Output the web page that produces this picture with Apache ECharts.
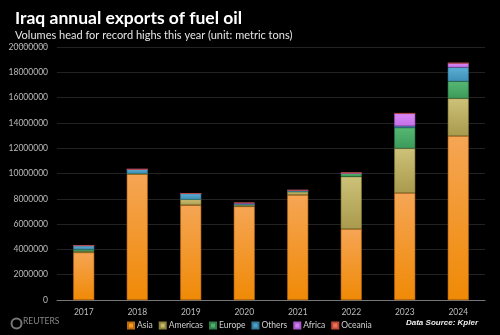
<!DOCTYPE html>
<html>
<head>
<meta charset="utf-8">
<script src="https://cdn.jsdelivr.net/npm/echarts@6/dist/echarts.min.js"></script>
<style>
html,body{margin:0;padding:0;background:#000;}
#c{width:500px;height:335px;}
</style>
</head>
<body>
<div id="c"></div>
<script>
const years = ['2017','2018','2019','2020','2021','2022','2023','2024'];
const asia      = [3750000, 9950000, 7500000, 7400000, 8300000, 5610000, 8460000, 12960000];
const americas  = [100000,   50000,  450000,  120000,  260000, 4140000, 3530000, 2980000];
const europe    = [150000,       0,       0,       0,       0,  260000, 1630000, 1350000];
const others    = [300000,  330000,  470000,  100000,  110000,       0,  130000, 1100000];
const africa    = [0,            0,       0,   50000,       0,       0, 1000000,  340000];
const oceania   = [0,            0,       0,   30000,       0,   80000,       0,       0];
const yTicks = [0, 2000000, 4000000, 6000000, 8000000, 10000000, 12000000, 14000000, 16000000, 18000000, 20000000];

const chart = echarts.init(document.getElementById('c'), null, {renderer: 'canvas'});
const G = (a, b) => new echarts.graphic.LinearGradient(0, 0, 0, 1, [{offset: 0, color: a}, {offset: 1, color: b}]);
const seriesDefs = [
  {name: 'Asia', data: asia, c1: '#f5a555', c2: '#f08a06', b: '#c06a10', icon: '#f39a20'},
  {name: 'Americas', data: americas, c1: '#cdc279', c2: '#a99a4c', b: '#8c7f3c', icon: '#c3b86a'},
  {name: 'Europe', data: europe, c1: '#56b873', c2: '#3c9a5a', b: '#2f7d47', icon: '#4caf6a'},
  {name: 'Others', data: others, c1: '#5aaed3', c2: '#3f8fb8', b: '#35789a', icon: '#4aa0c8'},
  {name: 'Africa', data: africa, c1: '#d98af5', c2: '#c56fe8', b: '#a858c8', icon: '#cf7ef0'},
  {name: 'Oceania', data: oceania, c1: '#f57c66', c2: '#e8604a', b: '#c04a38', icon: '#f0705a'}
];

chart.setOption({
  backgroundColor: '#000',
  animation: false,
  textStyle: {fontFamily: 'Lato, "DejaVu Sans", sans-serif'},
  title: [
    {text: 'Iraq annual exports of fuel oil', left: 10, top: 4,
     textStyle: {color: '#fff', fontSize: 17.5, fontWeight: 'bold', fontFamily: 'Lato, sans-serif'}},
    {text: 'Volumes head for record highs this year (unit: metric tons)', left: 10, top: 25,
     textStyle: {color: '#e6e6e6', fontSize: 11, fontWeight: 'normal', fontFamily: 'Lato, sans-serif'}}
  ],
  grid: {left: 57, right: 15, top: 47, bottom: 35, containLabel: false},
  legend: {
    data: seriesDefs.map(s => ({name: s.name, itemStyle: {color: s.icon}})),
    left: 122, top: 316, itemWidth: 6, itemHeight: 6, itemGap: 6,
    icon: 'rect',
    textStyle: {color: '#d0d0d0', fontSize: 8.5, padding: [0, 0, 0, -2]}
  },
  xAxis: {
    type: 'category', data: years,
    axisLine: {lineStyle: {color: '#777', width: 1}},
    axisTick: {show: false},
    axisLabel: {color: '#bbb', fontSize: 8.5, margin: 8}
  },
  yAxis: {
    type: 'value', min: 0, max: 20000000, interval: 2000000,
    axisLine: {show: false}, axisTick: {show: false},
    splitLine: {lineStyle: {color: '#222', width: 1}},
    axisLabel: {color: '#bbb', fontSize: 8.5, margin: 9, formatter: v => String(v)}
  },
  graphic: [
    {type: 'line', left: 10, top: 43, shape: {x1: 0, y1: 0, x2: 36, y2: 0},
     style: {stroke: '#555', lineWidth: 1, lineDash: [2, 2]}},
    {type: 'circle', left: 9, top: 316, shape: {r: 5}, style: {fill: 'none', stroke: '#777', lineWidth: 2}},
    {type: 'text', left: 23, top: 317, style: {text: 'REUTERS', fill: '#888', fontSize: 8.5, fontFamily: 'Lato, sans-serif'}},
    {type: 'text', right: 22, top: 319, style: {text: 'Data Source: Kpler', fill: '#eee', fontSize: 8, fontWeight: 'bold', fontStyle: 'italic', fontFamily: '"Liberation Sans", Arial, sans-serif'}}
  ],
  series: seriesDefs.map(s => ({
    name: s.name, type: 'bar', stack: 'total', barWidth: 21,
    data: s.data,
    itemStyle: {color: G(s.c1, s.c2), borderColor: s.b, borderWidth: 0.6}
  }))
});
</script>
</body>
</html>
